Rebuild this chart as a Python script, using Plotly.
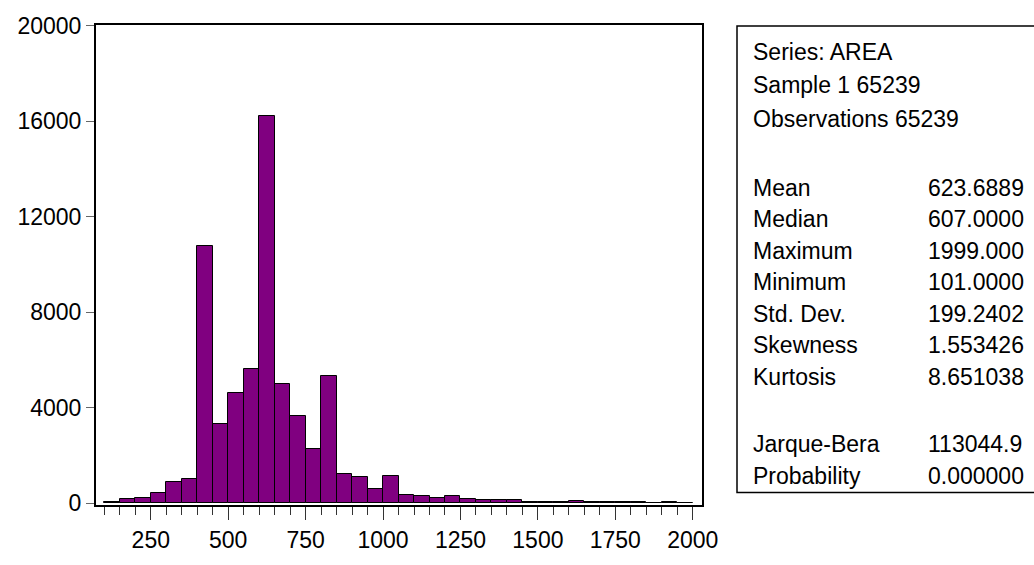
import plotly.graph_objects as go

# Histogram of AREA: bins of width 50 starting at 100
bin_width = 50
bin_lo = [100, 150, 200, 250, 300, 350, 400, 450, 500, 550,
          600, 650, 700, 750, 800, 850, 900, 950, 1000, 1050,
          1100, 1150, 1200, 1250, 1300, 1350, 1400, 1450, 1500, 1550,
          1600, 1650, 1700, 1750, 1800, 1850, 1900, 1950]
counts = [50, 190, 230, 420, 870, 1030, 10770, 3320, 4615, 5625,
          16220, 5000, 3635, 2265, 5340, 1210, 1085, 585, 1140, 355,
          300, 205, 300, 180, 140, 120, 120, 60, 60, 50,
          100, 40, 40, 40, 40, 20, 30, 25]

x_ticks = [250, 500, 750, 1000, 1250, 1500, 1750, 2000]
y_ticks = [0, 4000, 8000, 12000, 16000, 20000]

# Descriptive statistics panel
head_lines = ["Series: AREA", "Sample 1 65239", "Observations 65239"]
stat_names = ["Mean", "Median", "Maximum", "Minimum", "Std. Dev.",
              "Skewness", "Kurtosis"]
stat_values = ["623.6889", "607.0000", "1999.000", "101.0000", "199.2402",
               "1.553426", "8.651038"]
test_names = ["Jarque-Bera", "Probability"]
test_values = ["113044.9", "0.000000"]

W, H = 1034, 565
L, R, T, B = 96, 332, 25, 45
PW, PH = W - L - R, H - T - B

FONT = "Liberation Sans, Arial, sans-serif"
FS = 23


def px(xpix):
    return (xpix - L) / PW


def py(ypix):
    return 1 - (ypix - T) / PH


centers = [lo + bin_width / 2 for lo in bin_lo]

fig = go.Figure(go.Bar(
    x=centers, y=counts, width=bin_width,
    marker=dict(color="#800080", line=dict(color="#000000", width=1)),
    hoverinfo="x+y",
))

fig.update_xaxes(
    range=[73, 2030], showgrid=False, zeroline=False,
    showline=True, linecolor="#000000", linewidth=2, mirror=True,
    tickvals=x_ticks, ticktext=[str(v) for v in x_ticks],
    ticks="outside", ticklen=13, tickwidth=1, tickcolor="#333333",
    minor=dict(tick0=0, dtick=50, ticks="outside", ticklen=8,
               tickwidth=1, tickcolor="#333333", showgrid=False),
    tickfont=dict(family=FONT, size=FS, color="#000000"),
)
fig.update_yaxes(
    range=[-75, 20030], showgrid=False, zeroline=False,
    showline=True, linecolor="#000000", linewidth=2, mirror=True,
    tickvals=y_ticks, ticktext=[str(v) for v in y_ticks],
    ticks="outside", ticklen=8, tickwidth=1, tickcolor="#666666",
    tickfont=dict(family=FONT, size=FS, color="#000000"),
)

# Frame of the statistics panel
fig.add_shape(type="rect", xref="paper", yref="paper",
              x0=px(737), x1=px(1045), y0=py(507), y1=py(26),
              line=dict(color="#000000", width=1.5), fillcolor="rgba(0,0,0,0)")

annots = []
label_x = px(751)
value_x = px(926)


def add_row(ycenter, label, value=None):
    annots.append(dict(x=label_x, y=py(ycenter), xref="paper", yref="paper",
                       text=label, showarrow=False, xanchor="left",
                       yanchor="middle",
                       font=dict(family=FONT, size=FS, color="#000000")))
    if value is not None:
        annots.append(dict(x=value_x, y=py(ycenter), xref="paper", yref="paper",
                           text=value, showarrow=False, xanchor="left",
                           yanchor="middle",
                           font=dict(family=FONT, size=FS, color="#000000")))


for i, line in enumerate(head_lines):
    add_row(52.5 + 34.5 * i, line)
for i, (n, v) in enumerate(zip(stat_names, stat_values)):
    add_row(193 + 32.5 * i, n, v)
for i, (n, v) in enumerate(zip(test_names, test_values)):
    add_row(457 + 33 * i, n, v)

fig.update_layout(
    width=W, height=H,
    margin=dict(l=L, r=R, t=T, b=B, pad=0),
    plot_bgcolor="#ffffff", paper_bgcolor="#ffffff",
    bargap=0, showlegend=False,
    annotations=annots,
    font=dict(family=FONT, size=FS, color="#000000"),
)

fig.write_html("out.html")
